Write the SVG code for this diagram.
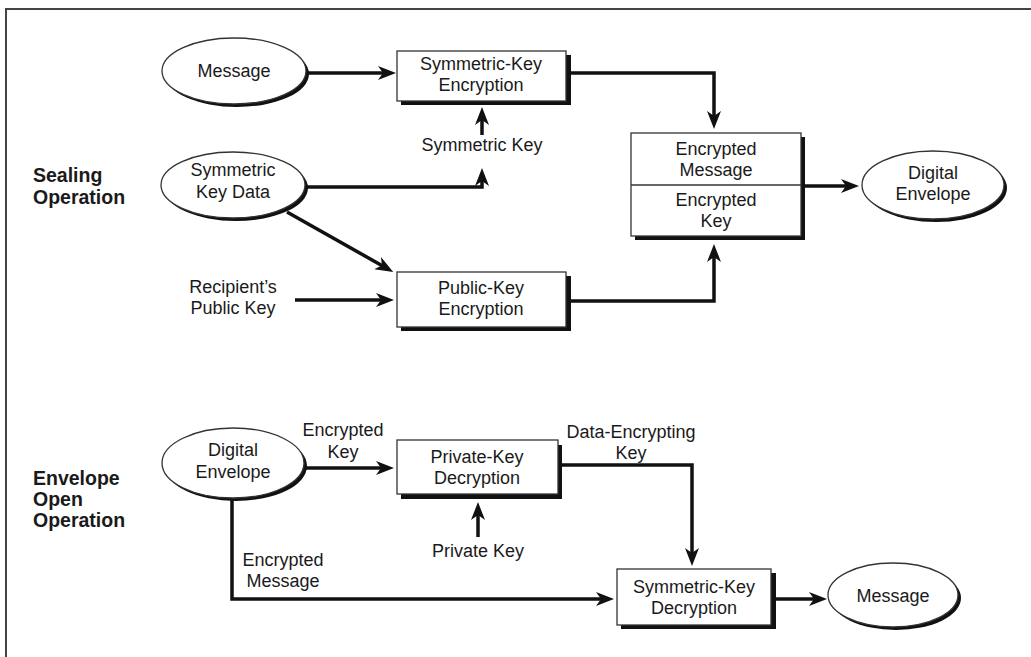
<svg xmlns="http://www.w3.org/2000/svg" width="1031" height="657" viewBox="0 0 1031 657">
  <style>
    text { font-family: "Liberation Sans", Arial, sans-serif; font-size: 18px; fill: #1a1a1a; text-anchor: middle; }
    .title { font-weight: bold; font-size: 19.5px; text-anchor: start; }
    .shape { fill: #ffffff; stroke: #333333; stroke-width: 1.3; }
    .shadow { fill: #111111; stroke: none; }
    .conn { fill: none; stroke: #111111; stroke-width: 3.5; stroke-linejoin: miter; }
    .frame { fill: none; stroke: #444444; stroke-width: 2; }
  </style>
  <defs>
    <marker id="arrow" markerUnits="userSpaceOnUse" viewBox="0 0 18 14" markerWidth="18" markerHeight="14" refX="12" refY="7" orient="auto">
      <path d="M0,0 L18,7 L0,14 L5,7 Z" fill="#111111"/>
    </marker>
  </defs>

  <rect class="frame" x="6" y="9" width="1040" height="670"/>

  <!-- section labels -->
  <g id="label-sealing">
    <text class="title" x="33" y="182">Sealing</text>
    <text class="title" x="33" y="204">Operation</text>
  </g>
  <g id="label-open">
    <text class="title" x="33" y="485">Envelope</text>
    <text class="title" x="33" y="506">Open</text>
    <text class="title" x="33" y="527">Operation</text>
  </g>

  <!-- connectors -->
  <g id="connectors">
    <path class="conn" marker-end="url(#arrow)" d="M306,73 H390"/>
    <path class="conn" marker-end="url(#arrow)" d="M566,73 H714 V123"/>
    <path class="conn" marker-end="url(#arrow)" d="M304,187 H482 V174"/>
    <path class="conn" marker-end="url(#arrow)" d="M482,135 V113"/>
    <path class="conn" marker-end="url(#arrow)" d="M287,212 L388,269"/>
    <path class="conn" marker-end="url(#arrow)" d="M295,300 H388"/>
    <path class="conn" marker-end="url(#arrow)" d="M566,301 H714 V250"/>
    <path class="conn" marker-end="url(#arrow)" d="M805,186 H853"/>

    <path class="conn" marker-end="url(#arrow)" d="M304,468 H388"/>
    <path class="conn" marker-end="url(#arrow)" d="M478,537 V508"/>
    <path class="conn" marker-end="url(#arrow)" d="M558,465 H692 V560"/>
    <path class="conn" marker-end="url(#arrow)" d="M232,498 V599 H608"/>
    <path class="conn" marker-end="url(#arrow)" d="M771,599 H821"/>
  </g>

  <!-- connector labels -->
  <g id="label-symmetric-key">
    <text x="482" y="151">Symmetric Key</text>
  </g>
  <g id="label-recipient-key">
    <text x="233" y="293">Recipient’s</text>
    <text x="233" y="314">Public Key</text>
  </g>
  <g id="label-encrypted-key">
    <text x="343" y="436">Encrypted</text>
    <text x="343" y="458">Key</text>
  </g>
  <g id="label-private-key">
    <text x="478" y="557">Private Key</text>
  </g>
  <g id="label-data-key">
    <text x="631" y="438">Data-Encrypting</text>
    <text x="631" y="459">Key</text>
  </g>
  <g id="label-encrypted-message">
    <text x="283" y="566">Encrypted</text>
    <text x="283" y="587">Message</text>
  </g>

  <!-- sealing nodes -->
  <g id="message-in">
    <ellipse class="shadow" cx="237" cy="74" rx="72" ry="33"/>
    <ellipse class="shape" cx="234" cy="71" rx="72" ry="33"/>
    <text x="234" y="77">Message</text>
  </g>
  <g id="symmetric-key-data">
    <ellipse class="shadow" cx="236" cy="188" rx="72" ry="33"/>
    <ellipse class="shape" cx="233" cy="185" rx="72" ry="33"/>
    <text x="233" y="176">Symmetric</text>
    <text x="233" y="198">Key Data</text>
  </g>
  <g id="symmetric-key-encryption">
    <rect class="shadow" x="401" y="55" width="170" height="50"/>
    <rect class="shape" x="397" y="51" width="169" height="50"/>
    <text x="481" y="70">Symmetric-Key</text>
    <text x="481" y="91">Encryption</text>
  </g>
  <g id="public-key-encryption">
    <rect class="shadow" x="401" y="276" width="170" height="55"/>
    <rect class="shape" x="397" y="272" width="169" height="55"/>
    <text x="481" y="294">Public-Key</text>
    <text x="481" y="315">Encryption</text>
  </g>
  <g id="encrypted-bundle">
    <rect class="shadow" x="635" y="137" width="170" height="103"/>
    <rect class="shape" x="631" y="133" width="170" height="103"/>
    <line x1="631" y1="185" x2="801" y2="185" stroke="#333333" stroke-width="1.3"/>
    <text x="716" y="155">Encrypted</text>
    <text x="716" y="176">Message</text>
    <text x="716" y="206">Encrypted</text>
    <text x="716" y="227">Key</text>
  </g>
  <g id="digital-envelope-out">
    <ellipse class="shadow" cx="936" cy="188" rx="71" ry="34"/>
    <ellipse class="shape" cx="933" cy="185" rx="71" ry="34"/>
    <text x="933" y="179">Digital</text>
    <text x="933" y="200">Envelope</text>
  </g>

  <!-- opening nodes -->
  <g id="digital-envelope-in">
    <ellipse class="shadow" cx="236" cy="466" rx="71" ry="35"/>
    <ellipse class="shape" cx="233" cy="463" rx="71" ry="35"/>
    <text x="233" y="456">Digital</text>
    <text x="233" y="478">Envelope</text>
  </g>
  <g id="private-key-decryption">
    <rect class="shadow" x="401" y="445" width="161" height="54"/>
    <rect class="shape" x="397" y="440" width="161" height="54"/>
    <text x="477" y="463">Private-Key</text>
    <text x="477" y="484">Decryption</text>
  </g>
  <g id="symmetric-key-decryption">
    <rect class="shadow" x="621" y="573" width="155" height="56"/>
    <rect class="shape" x="617" y="569" width="154" height="56"/>
    <text x="694" y="593">Symmetric-Key</text>
    <text x="694" y="614">Decryption</text>
  </g>
  <g id="message-out">
    <ellipse class="shadow" cx="896" cy="598" rx="65" ry="32"/>
    <ellipse class="shape" cx="893" cy="595" rx="65" ry="32"/>
    <text x="893" y="602">Message</text>
  </g>
</svg>
